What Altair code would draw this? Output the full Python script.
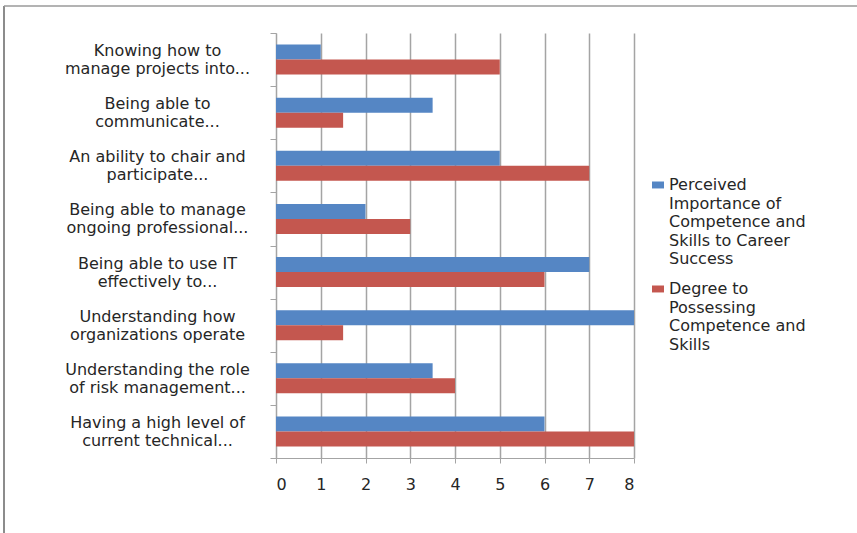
import altair as alt
import pandas as pd

categories = [
    "Knowing how to|manage projects into...",
    "Being able to|communicate...",
    "An ability to chair and|participate...",
    "Being able to manage|ongoing professional...",
    "Being able to use IT|effectively to...",
    "Understanding how|organizations operate",
    "Understanding the role|of risk management...",
    "Having a high level of|current technical...",
]
series = [
    "Perceived|Importance of|Competence and|Skills to Career|Success",
    "Degree to|Possessing|Competence and|Skills",
]
perceived = [1, 3.5, 5, 2, 7, 8, 3.5, 6]
degree = [5, 1.5, 7, 3, 6, 1.5, 4, 8]
x_ticks = [0, 1, 2, 3, 4, 5, 6, 7, 8]
colors = ["#5586C4", "#C4574F"]

rows = []
for c, p, d in zip(categories, perceived, degree):
    rows.append({"category": c, "series": series[0], "value": p})
    rows.append({"category": c, "series": series[1], "value": d})
df = pd.DataFrame(rows)

FONT = "DejaVu Sans"
FS = 16
TXT = "#262626"
GRID = "#A4A4A4"

bars = alt.Chart(df).mark_bar().encode(
    y=alt.Y(
        "category:N",
        sort=categories,
        scale=alt.Scale(paddingInner=0, paddingOuter=0),
        axis=alt.Axis(
            title=None,
            labelExpr="split(datum.label, '|')",
            labelAlign="center",
            labelBaseline="middle",
            labelPadding=113,
            labelOffset=-9,
            labelFont=FONT,
            labelFontSize=FS,
            labelLineHeight=18,
            labelColor=TXT,
            labelLimit=400,
            tickSize=6,
            tickBand="extent",
            tickColor=GRID,
            domainColor=GRID,
            grid=False,
        ),
    ),
    yOffset=alt.YOffset(
        "series:N", sort=series, scale=alt.Scale(paddingInner=0, paddingOuter=0.77)
    ),
    x=alt.X(
        "value:Q",
        scale=alt.Scale(domain=[0, 8], nice=False),
        axis=alt.Axis(
            title=None,
            values=x_ticks,
            grid=True,
            gridColor=GRID,
            gridWidth=1.5,
            tickSize=5,
            tickColor=GRID,
            domainColor=GRID,
            labelPadding=13,
            labelFont=FONT,
            labelFontSize=FS,
            labelColor=TXT,
        ),
    ),
    color=alt.Color(
        "series:N",
        sort=series,
        scale=alt.Scale(domain=series, range=colors),
        legend=alt.Legend(
            title=None,
            orient="none",
            legendX=374,
            legendY=136,
            padding=0,
            labelExpr="split(datum.label, '|')",
            labelBaseline="top",
            labelFont=FONT,
            labelFontSize=FS,
            labelColor=TXT,
            labelLimit=300,
            labelOffset=3,
            symbolType="M-1,0.75H1V1.91H-1Z",
            symbolSize=144,
            symbolStrokeWidth=0,
            rowPadding=6,
        ),
    ),
)

frame_df = pd.DataFrame({"k": [0]})
left_line = alt.Chart(frame_df).mark_rule(color="#8C8C8C", strokeWidth=2).encode(
    x=alt.value(-272), y=alt.value(-27), y2=alt.value(500)
)
top_line = alt.Chart(frame_df).mark_rule(color="#9A9A9A", strokeWidth=1.5).encode(
    x=alt.value(-272), x2=alt.value(590), y=alt.value(-27)
)

chart = (
    alt.layer(bars, left_line, top_line)
    .properties(
        width=358,
        height=425,
        autosize=alt.AutoSizeParams(type="none"),
        padding={"left": 276, "top": 33, "right": 223, "bottom": 75},
    )
    .configure(background="white", style={"guide-label": {"lineHeight": 18.5}})
    .configure_view(stroke=None)
)

chart.save("out.html", embed_options={"renderer": "svg", "actions": False})
